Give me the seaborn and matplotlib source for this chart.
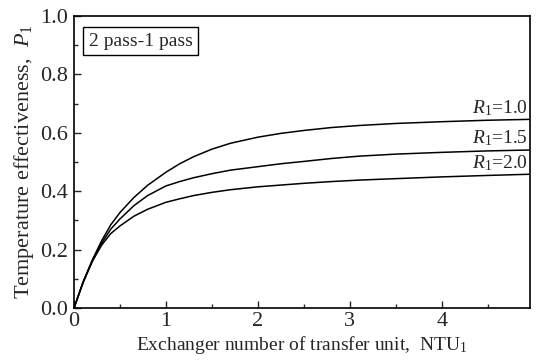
import numpy as np
import pandas as pd
import matplotlib
matplotlib.use("Agg")
import matplotlib.pyplot as plt
from matplotlib.ticker import MultipleLocator, FormatStrFormatter
import seaborn as sns

# Temperature effectiveness of a 2 pass-1 pass exchanger vs NTU
ntu = [0, 0.1, 0.2, 0.3, 0.4, 0.5, 0.65, 0.8, 1.0, 1.15, 1.3, 1.5, 1.7,
       2.0, 2.25, 2.5, 2.8, 3.1, 3.5, 4.0, 4.5, 4.95]
p_r10 = [0, 0.09, 0.165, 0.23, 0.285, 0.327, 0.378, 0.42, 0.465, 0.494, 0.518,
         0.544, 0.564, 0.585, 0.598, 0.608, 0.618, 0.625, 0.632, 0.638, 0.643, 0.646]
p_r15 = [0, 0.089, 0.162, 0.222, 0.27, 0.305, 0.35, 0.385, 0.418, 0.433, 0.446,
         0.46, 0.472, 0.484, 0.494, 0.502, 0.512, 0.52, 0.527, 0.533, 0.538, 0.541]
p_r20 = [0, 0.088, 0.16, 0.215, 0.255, 0.281, 0.314, 0.338, 0.362, 0.374, 0.385,
         0.396, 0.405, 0.415, 0.421, 0.427, 0.433, 0.438, 0.443, 0.449, 0.454, 0.458]
ratios = ["1.0", "1.5", "2.0"]

df = pd.concat([
    pd.DataFrame({"NTU": ntu, "P": p, "R": r})
    for p, r in zip([p_r10, p_r15, p_r20], ratios)
])

sns.set_style("ticks")
plt.rcParams["font.family"] = ["Liberation Serif", "DejaVu Serif"]
plt.rcParams["mathtext.fontset"] = "custom"
plt.rcParams["mathtext.rm"] = "Liberation Serif"
plt.rcParams["mathtext.it"] = "Liberation Serif:italic"

fig = plt.figure(figsize=(5.36, 3.62), dpi=100)
ax = fig.add_axes([74 / 536, 54 / 362, 456 / 536, 292 / 362])

sns.lineplot(data=df, x="NTU", y="P", hue="R", palette=["black"] * 3,
             linewidth=1.1, legend=False, ax=ax)

ax.set_xlim(0, 4.96)
ax.set_ylim(0, 1.0)
ax.xaxis.set_major_locator(MultipleLocator(1))
ax.xaxis.set_minor_locator(MultipleLocator(0.5))
ax.yaxis.set_major_locator(MultipleLocator(0.2))
ax.yaxis.set_minor_locator(MultipleLocator(0.1))
ax.xaxis.set_major_formatter(FormatStrFormatter("%d"))
ax.yaxis.set_major_formatter(FormatStrFormatter("%.1f"))
ax.tick_params(which="major", direction="in", length=5, width=1, labelsize=16)
ax.tick_params(axis="x", which="major", pad=3)
ax.tick_params(axis="y", which="major", pad=4)
ax.tick_params(which="minor", direction="in", length=3, width=1)
for s in ax.spines.values():
    s.set_visible(True)
    s.set_linewidth(1.2)
    s.set_color("black")

ax.set_xlabel(r"Exchanger number of transfer unit,  NTU$_1$", fontsize=14, labelpad=2)
ax.set_ylabel(r"Temperature effectiveness,  $P_1$", fontsize=16, labelpad=3)

for p, r in zip([p_r10, p_r15, p_r20], ratios):
    ax.text(4.94, p[-1] + 0.022, rf"$R_1$={r}", fontsize=14,
            ha="right", va="baseline")

ax.text(0.16, 0.914, "2 pass-1 pass", fontsize=14, ha="left", va="center",
        bbox=dict(boxstyle="square,pad=0.3", fc="white", ec="black", lw=1))

fig.savefig("out.png", dpi=100)
